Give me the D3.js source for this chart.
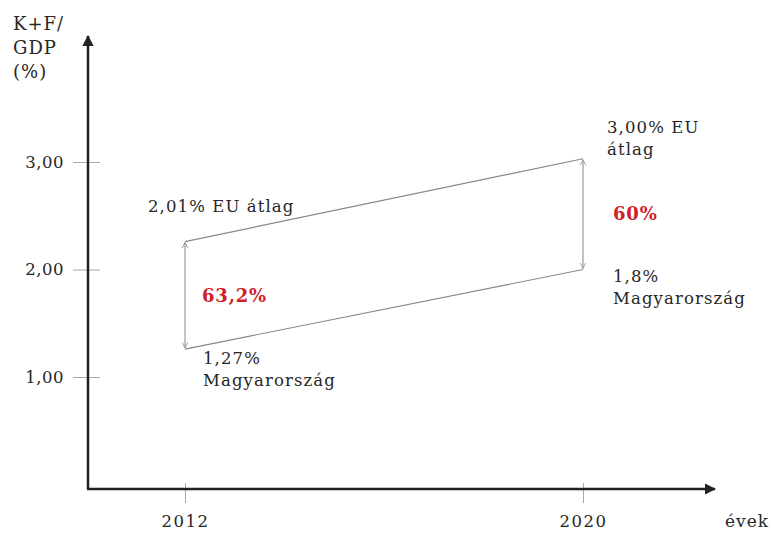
<!DOCTYPE html>
<html>
<head>
<meta charset="utf-8">
<script src="https://cdn.jsdelivr.net/npm/d3@7"></script>
<style>
body { margin: 0; background: #fff; }
text { font-family: "DejaVu Serif", serif; fill: #262626; }
</style>
</head>
<body>
<svg id="chart" width="771" height="535"></svg>
<script>
// values as drawn in the picture (the sketch is schematic, not to scale)
var years = [2012, 2020];
var euValues = [2.26, 3.03];
var huValues = [1.26, 2.0];
var euLabels = [["2,01% EU átlag"], ["3,00% EU", "átlag"]];
var huLabels = [["1,27%", "Magyarország"], ["1,8%", "Magyarország"]];
var gapLabels = ["63,2%", "60%"];
var yTicks = [1, 2, 3];
var yTitle = ["K+F/", "GDP", "(%)"];
var xTitle = "évek";

var svg = d3.select("#chart");

var x = d3.scaleLinear().domain([2012, 2020]).range([185, 583]);
var y = d3.scaleLinear().domain([1, 3]).range([377, 162]);

var huLocale = d3.formatLocale({decimal: ",", thousands: " ", grouping: [3], currency: ["", ""]});
var fmt = huLocale.format(".2f");

var defs = svg.append("defs");
defs.append("marker")
    .attr("id", "axisArrow")
    .attr("viewBox", "0 0 10 10")
    .attr("refX", 9).attr("refY", 5)
    .attr("markerWidth", 4.5).attr("markerHeight", 4.5)
    .attr("markerUnits", "strokeWidth")
    .attr("orient", "auto")
    .append("path")
    .attr("d", "M0,0 L10,5 L0,10 Z")
    .attr("fill", "#222");

defs.append("marker")
    .attr("id", "gapArrow")
    .attr("viewBox", "0 0 10 10")
    .attr("refX", 9).attr("refY", 5)
    .attr("markerWidth", 7).attr("markerHeight", 7)
    .attr("markerUnits", "userSpaceOnUse")
    .attr("orient", "auto-start-reverse")
    .append("path")
    .attr("d", "M1,1 L9,5 L1,9")
    .attr("fill", "none")
    .attr("stroke", "#999")
    .attr("stroke-width", 1.3);

// y ticks + labels
var yAxis = d3.axisLeft(y).tickValues(yTicks).tickSize(27).tickPadding(9)
    .tickFormat(fmt);
var gy = svg.append("g").attr("transform", "translate(100,0)").call(yAxis);
gy.select(".domain").remove();
gy.selectAll(".tick line").attr("stroke", "#aaa").attr("stroke-width", 1);
gy.selectAll(".tick text")
    .style("font-family", "DejaVu Serif, serif")
    .style("letter-spacing", "0.5px")
    .attr("font-size", 16.5).attr("fill", "#262626");

// x ticks + labels
var xAxis = d3.axisBottom(x).tickValues(years).tickSize(20).tickPadding(12)
    .tickFormat(d3.format("d"));
var gx = svg.append("g").attr("transform", "translate(0,483)").call(xAxis);
gx.select(".domain").remove();
gx.selectAll(".tick line").attr("stroke", "#aaa").attr("stroke-width", 1);
gx.selectAll(".tick text")
    .style("font-family", "DejaVu Serif, serif")
    .style("letter-spacing", "1.5px")
    .attr("font-size", 16.5).attr("fill", "#262626");

// main axes with arrows
svg.append("line")
    .attr("x1", 88).attr("y1", 489).attr("x2", 88).attr("y2", 36)
    .attr("stroke", "#222").attr("stroke-width", 2.5)
    .attr("marker-end", "url(#axisArrow)");
svg.append("line")
    .attr("x1", 87).attr("y1", 489).attr("x2", 715).attr("y2", 489)
    .attr("stroke", "#222").attr("stroke-width", 2.5)
    .attr("marker-end", "url(#axisArrow)");

// axis titles
svg.append("text")
    .attr("x", 13).attr("y", 30)
    .attr("font-size", 18)
    .style("letter-spacing", "1px")
    .selectAll("tspan")
    .data(yTitle)
    .enter().append("tspan")
    .attr("x", 13)
    .attr("dy", function(d, i) { return i == 0 ? 0 : 24; })
    .text(function(d) { return d; });

svg.append("text")
    .attr("x", 725).attr("y", 527)
    .attr("font-size", 17)
    .style("letter-spacing", "1px")
    .text(xTitle);

// EU and HU lines
var line = d3.line()
    .x(function(d) { return x(d[0]); })
    .y(function(d) { return y(d[1]); });

svg.append("path")
    .datum(d3.zip(years, euValues))
    .attr("d", line)
    .attr("fill", "none").attr("stroke", "#888").attr("stroke-width", 1.2);
svg.append("path")
    .datum(d3.zip(years, huValues))
    .attr("d", line)
    .attr("fill", "none").attr("stroke", "#888").attr("stroke-width", 1.2);

// vertical gap arrows
svg.selectAll(".gap")
    .data(years)
    .enter().append("line")
    .attr("class", "gap")
    .attr("x1", function(d) { return x(d); })
    .attr("x2", function(d) { return x(d); })
    .attr("y1", function(d, i) { return y(euValues[i]) + 1; })
    .attr("y2", function(d, i) { return y(huValues[i]) - 1; })
    .attr("stroke", "#999").attr("stroke-width", 1.2)
    .attr("marker-start", "url(#gapArrow)")
    .attr("marker-end", "url(#gapArrow)");

// gap percentages
var gapOffset = [17, 30];
svg.selectAll(".gapLabel")
    .data(gapLabels)
    .enter().append("text")
    .attr("class", "gapLabel")
    .attr("x", function(d, i) { return x(years[i]) + gapOffset[i]; })
    .attr("y", function(d, i) { return (y(euValues[i]) + y(huValues[i])) / 2; })
    .attr("dy", "0.35em")
    .attr("font-size", 18).attr("font-weight", "bold")
    .style("letter-spacing", "0.8px")
    .style("fill", "#d0202a")
    .text(function(d) { return d; });

// value labels
var euOffset = [[-37, -30], [24, -26]];
var huOffset = [[18, 15], [30, 12]];

function addLabel(lines, px, py) {
    var t = svg.append("text")
        .attr("x", px).attr("y", py)
        .attr("font-size", 16.5)
        .style("letter-spacing", "1.1px");
    t.selectAll("tspan")
        .data(lines)
        .enter().append("tspan")
        .attr("x", px)
        .attr("dy", function(d, i) { return i == 0 ? 0 : 22; })
        .text(function(d) { return d; });
}

years.forEach(function(yr, i) {
    addLabel(euLabels[i], x(yr) + euOffset[i][0], y(euValues[i]) + euOffset[i][1]);
    addLabel(huLabels[i], x(yr) + huOffset[i][0], y(huValues[i]) + huOffset[i][1]);
});
</script>
</body>
</html>
